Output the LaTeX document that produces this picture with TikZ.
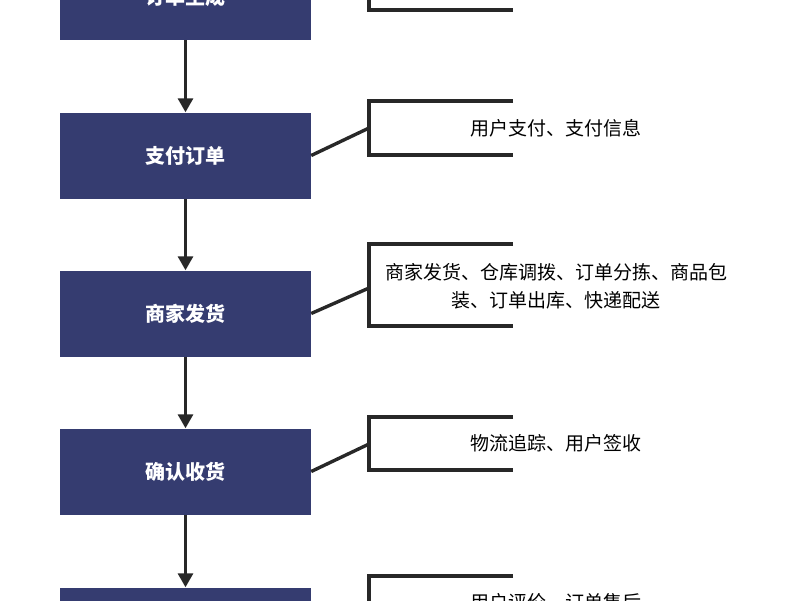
\documentclass[tikz,border=0pt]{standalone}
\usepackage{fontspec}
\setmainfont{Noto Sans CJK SC}
\usetikzlibrary{arrows.meta}

\tikzset{
  stage/.style={fill={rgb,255:red,53;green,60;blue,112}, text=white, font=\bfseries\fontsize{20}{24}\selectfont,
    minimum width=251pt, minimum height=86pt, inner sep=0pt},
  note/.style={font=\fontsize{19}{28}\selectfont, align=center, inner sep=0pt},
  flow/.style={-{Triangle[length=14pt,width=15pt]}, line width=3pt, draw={rgb,255:red,40;green,40;blue,40}},
  brace/.style={line width=3.4pt, draw={rgb,255:red,40;green,40;blue,40}}
}

\begin{document}
\begin{tikzpicture}[x=1pt,y=-1pt]
\clip (0,0) rectangle (800,600);
\useasboundingbox (0,0) rectangle (800,600);

% stages
\node[stage] (s1) at (185.5,-3) {订单生成};
\node[stage] (s2) at (185.5,155.5) {支付订单};
\node[stage] (s3) at (185.5,313.5) {商家发货};
\node[stage] (s4) at (185.5,471.5) {确认收货};
\node[stage] (s5) at (185.5,630.5) {};

\draw[flow] (s1) -- (s2);
\draw[flow] (s2) -- (s3);
\draw[flow] (s3) -- (s4);
\draw[flow] (s4) -- (s5);

% notes
\draw[brace] (513,-50) -- (369,-50) -- (369,10) -- (513,10);
\coordinate (b1) at (369,-20);
\draw[brace] (s1.east) -- (b1);

\draw[brace] (513,101) -- (369,101) -- (369,155) -- (513,155);
\coordinate (b2) at (369,128);
\draw[brace] (s2.east) -- (b2);
\node[note] (n2) at (556,128) {用户支付、支付信息};

\draw[brace] (513,244) -- (369,244) -- (369,326) -- (513,326);
\coordinate (b3) at (369,288);
\draw[brace] (s3.east) -- (b3);
\node[note] (n3) at (556,286) {商家发货、仓库调拨、订单分拣、商品包\\装、订单出库、快递配送};

\draw[brace] (513,417) -- (369,417) -- (369,470) -- (513,470);
\coordinate (b4) at (369,444);
\draw[brace] (s4.east) -- (b4);
\node[note] (n4) at (556,443) {物流追踪、用户签收};

\draw[brace] (513,576) -- (369,576) -- (369,640) -- (513,640);
\node[note] (n5) at (556,602) {用户评价、订单售后};
\end{tikzpicture}
\end{document}
